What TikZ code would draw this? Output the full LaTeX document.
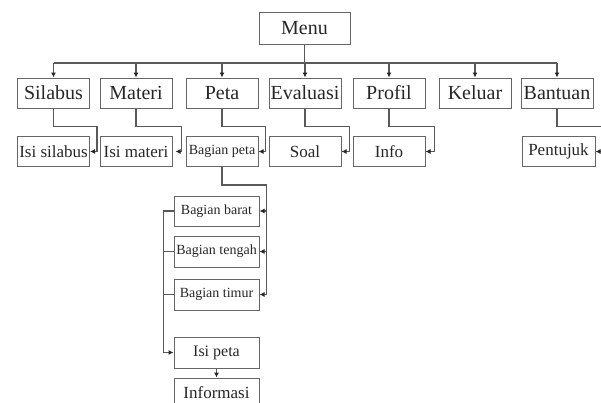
\documentclass[tikz,border=0pt]{standalone}
\usepackage{fontspec}
\setmainfont{Liberation Serif}
\usetikzlibrary{arrows.meta}

\begin{document}
\begin{tikzpicture}[x=1pt, y=-1pt,
        box/.style={draw=black!60, line width=1pt, rectangle, inner sep=0pt,
            minimum width=72pt, minimum height=30pt, text=black!85},
        big_box/.style={box, font=\fontsize{20}{22}\selectfont},
        item_box/.style={box, font=\fontsize{17}{19}\selectfont},
        small_box/.style={box, minimum width=85pt, font=\fontsize{14}{16}\selectfont},
        line/.style={draw=black!65, line width=1.1pt},
        conn/.style={line, -{Latex[length=5pt, width=5pt, color=black!85]}}
    ]
    \useasboundingbox (0,0) rectangle (601,402);
    \clip (0,0) rectangle (601,402);

    % --- Menu e bus ---
    \node[big_box, minimum width=91pt, minimum height=32pt] (menu) at (304.5,28) {Menu};
    \coordinate (busL) at (53.5,63);
    \coordinate (busR) at (557,63);

    % --- Riga 1: voci del menu ---
    \node[big_box] (silabus)  at (53.5,93) {Silabus};
    \node[big_box] (materi)   at (136,93)  {Materi};
    \node[big_box] (peta)     at (222,93)  {Peta};
    \node[big_box] (evaluasi) at (305,93)  {Evaluasi};
    \node[big_box] (profil)   at (389,93)  {Profil};
    \node[big_box] (keluar)   at (475,93)  {Keluar};
    \node[big_box] (bantuan)  at (557,93)  {Bantuan};

    \draw[line] (menu.south) -- (menu.south |- busL);
    \draw[line] (busL) -- (busR);
    \foreach \n in {silabus, materi, peta, evaluasi, profil, keluar, bantuan}
        \draw[conn] (\n.north |- busL) -- (\n.north);

    % --- Riga 2: sottovoci ---
    \node[item_box] (isisilabus) at (53.5,151.5) {Isi silabus};
    \node[item_box] (isimateri)  at (136,151.5)  {Isi materi};
    \node[small_box, minimum width=72pt] (bagianpeta) at (222,151.5) {Bagian peta};
    \node[item_box] (soal)       at (305,151.5)  {Soal};
    \node[item_box] (info)       at (389,151.5)  {Info};
    \node[item_box, minimum width=73pt] (pentujuk) at (558.5,151.5) {Pentujuk};

    \draw[conn] (silabus.south) -- ++(0,18) -| ([xshift=7pt]isisilabus.east) -- (isisilabus.east);
    \draw[conn] (materi.south) -- ++(0,18) -| ([xshift=9pt]isimateri.east) -- ([xshift=3pt]isimateri.east);
    \draw[conn] (peta.south) -- ++(0,18) -| ([xshift=7pt]bagianpeta.east) -- (bagianpeta.east);
    \draw[conn] (evaluasi.south) -- ++(0,18) -| ([xshift=8pt]soal.east) -- (soal.east);
    \draw[conn] (profil.south) -- ++(0,18) -| ([xshift=9pt]info.east) -- (info.east);
    \draw[conn] (bantuan.south) -- ++(0,18) -| ([xshift=6pt]pentujuk.east) -- (pentujuk.east);

    % --- Bagian peta ---
    \node[small_box] (barat)   at (216.5,211)   {Bagian barat};
    \node[small_box, minimum height=31pt] (tengah) at (216.5,251.5) {Bagian tengah};
    \node[small_box, minimum height=31pt] (timur)  at (216.5,294.5) {Bagian timur};
    \node[box, minimum width=85pt, minimum height=31pt, font=\fontsize{16}{18}\selectfont] (isipeta) at (216.5,352.5) {Isi peta};
    \node[box, minimum width=85pt, font=\fontsize{17}{19}\selectfont] (informasi) at (216.5,393) {Informasi};

    % lato destro
    \draw[conn] (bagianpeta.south) -- ++(0,18) -| ([xshift=7pt]timur.east) -- (timur.east);
    \draw[conn] ([xshift=7pt]barat.east) -- (barat.east);
    \draw[conn] ([xshift=7pt]tengah.east) -- (tengah.east);

    % lato sinistro
    \draw[conn] (barat.west) -- ++(-10,0) |- (isipeta.west);
    \draw[line] (tengah.west) -- ++(-10,0);
    \draw[line] (timur.west) -- ++(-10,0);

    \draw[conn] (isipeta.south) -- (informasi.north);

\end{tikzpicture}
\end{document}
